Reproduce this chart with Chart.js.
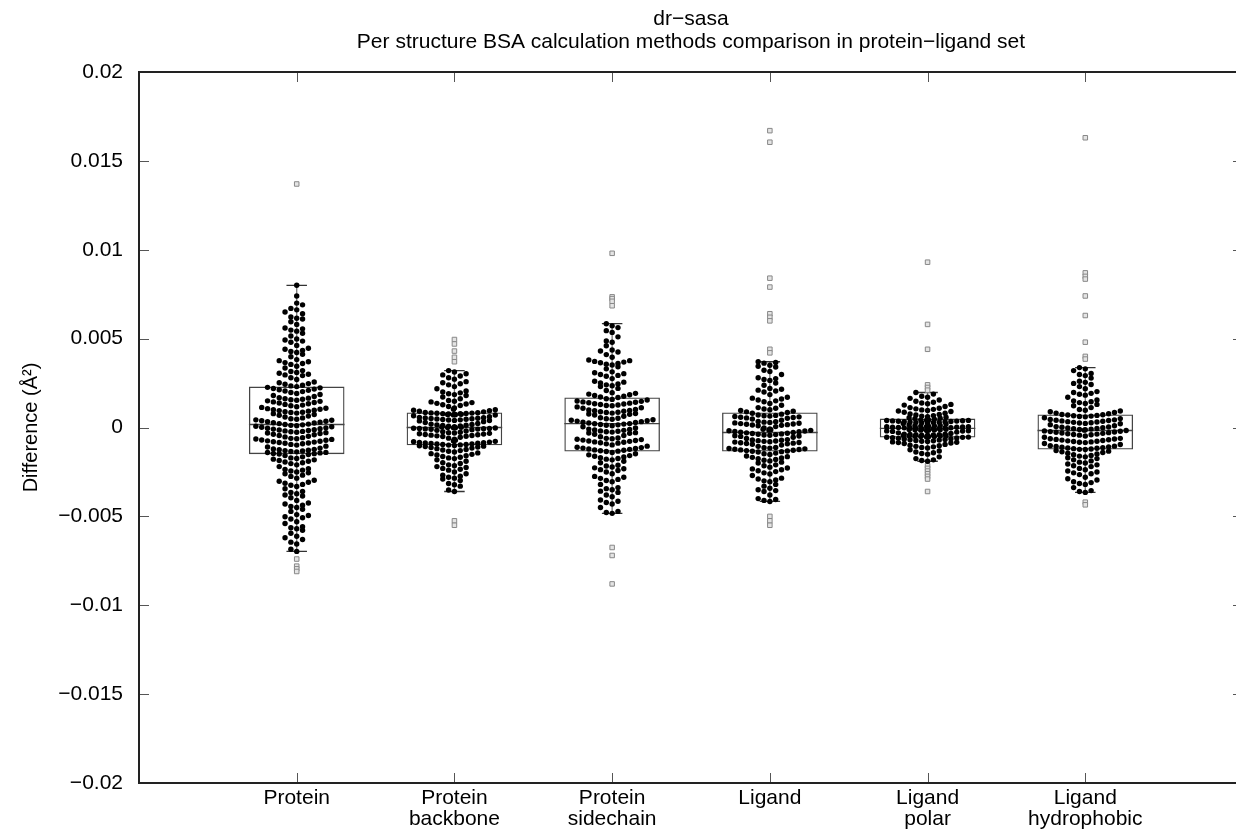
<!DOCTYPE html>
<html>
<head>
<meta charset="utf-8">
<script src="https://cdn.jsdelivr.net/npm/chart.js@4.4.0/dist/chart.umd.min.js"></script>
<style>
  html, body { margin: 0; padding: 0; background: #fff; overflow: hidden; }
  #wrap { width: 1248px; height: 837px; }
</style>
</head>
<body>
<div id="wrap"><canvas id="chart"></canvas></div>
<script>
// categories on the x axis (multi-line labels)
const categories = [
  ['Protein'], ['Protein', 'backbone'], ['Protein', 'sidechain'],
  ['Ligand'], ['Ligand', 'polar'], ['Ligand', 'hydrophobic']
];

// per-structure differences, in units of 1e-3 Å²
const proteinVals = [
  -6.97,-6.85,-6.55,-6.45,-6.3,-6.2,-6.12,-5.95,-5.78,-5.7,-5.64,-5.58,-5.4,-5.3,-5.15,-5.08,-5.02,-4.95,-4.9,-4.72,
  -4.6,-4.5,-4.44,-4.37,-4.3,-4.25,-4.1,-3.95,-3.85,-3.8,-3.73,-3.66,-3.6,-3.45,-3.32,-3.25,-3.2,-3.14,-3.08,-3.02,
  -2.97,-2.85,-2.75,-2.68,-2.6,-2.55,-2.5,-2.45,-2.4,-2.36,-2.32,-2.2,-2.1,-2.03,-1.98,-1.94,-1.9,-1.86,-1.82,-1.78,
  -1.74,-1.71,-1.65,-1.58,-1.52,
  -1.49,-1.47,-1.46,-1.43,-1.41,-1.4,-1.37,-1.35,-1.32,-1.3,-1.28,-1.25,-1.23,-1.21,-1.16,-1.1,-1.05,-0.99,-0.95,-0.91,
  -0.89,-0.87,-0.84,-0.82,-0.8,-0.77,-0.75,-0.72,-0.7,-0.67,-0.65,-0.63,-0.61,-0.57,-0.53,-0.49,-0.45,-0.41,-0.38,-0.34,
  -0.31,-0.29,-0.27,-0.24,-0.22,-0.19,-0.17,-0.14,-0.12,-0.09,-0.07,-0.04,-0.02,0.01,0.04,0.07,0.1,0.12,0.15,0.17,
  0.19,0.22,0.25,0.27,0.3,0.33,0.35,0.38,0.41,0.43,0.46,0.49,0.54,0.59,0.64,0.69,0.73,0.78,0.81,0.84,
  0.86,0.89,0.92,0.95,0.97,1.0,1.03,1.06,1.08,1.13,1.17,1.22,1.26,1.3,1.34,1.38,1.41,1.44,1.47,1.5,
  1.53,1.56,1.59,1.62,1.65,1.68,1.74,1.8,1.86,1.91,1.97,2.02,2.05,2.09,2.12,2.16,2.19,2.23,2.26,2.3,
  2.34,2.38,2.43,2.47,2.52,2.56,2.7,2.8,2.92,2.96,3.0,3.05,3.1,3.15,3.2,3.35,3.45,3.55,3.6,3.65,
  3.7,3.76,3.82,3.98,4.12,4.22,4.28,4.34,4.4,4.46,4.62,4.8,4.86,4.92,4.98,5.15,5.3,5.42,5.48,5.55,
  5.6,5.8,5.95,6.1,6.15,6.22,6.4,6.5,6.62,6.7,6.9,7.0,7.4,8.0
];
const backboneVals = [
  -3.6,-3.52,-3.3,-3.22,-3.15,-2.98,-2.9,-2.85,-2.8,-2.74,-2.68,-2.6,-2.5,-2.4,-2.35,-2.3,-2.25,-2.2,-2.15,-2.1,
  -2.02,-1.98,-1.9,-1.82,-1.75,-1.71,-1.67,-1.63,-1.59,-1.55,-1.51,-1.47,-1.43,-1.38,-1.34,-1.3,-1.27,-1.24,-1.19,-1.16,
  -1.13,-1.1,-1.07,-1.05,-1.03,-1.01,
  -0.99,-0.98,-0.96,-0.95,-0.93,-0.92,-0.9,-0.89,-0.87,-0.86,-0.84,-0.82,-0.8,-0.78,-0.76,-0.72,-0.66,-0.6,-0.55,-0.51,
  -0.49,-0.47,-0.45,-0.43,-0.41,-0.39,-0.37,-0.35,-0.33,-0.31,-0.29,-0.27,-0.24,-0.2,-0.16,-0.12,-0.1,-0.09,-0.08,-0.07,
  -0.06,-0.05,-0.04,-0.03,-0.02,-0.01,0.0,
  0.01,0.03,0.05,0.07,0.09,0.11,0.13,0.15,0.17,0.19,0.23,0.28,0.33,0.37,0.39,0.4,0.42,0.43,0.45,0.46,
  0.48,0.49,0.51,0.52,0.54,0.55,0.57,0.61,0.66,0.7,0.71,0.72,0.73,0.74,0.75,0.76,0.77,0.78,0.79,0.8,
  0.81,0.82,0.83,0.84,
  0.88,0.91,0.94,0.97,1.0,1.03,1.1,1.18,1.24,1.28,1.32,1.36,1.4,1.44,1.48,1.52,1.62,1.72,1.8,1.85,
  1.9,1.95,2.0,2.05,2.18,2.3,2.4,2.46,2.52,2.58,2.72,2.8,2.9,2.96,3.02,3.12,3.2
];
const sidechainVals = [
  -4.83,-4.78,-4.72,-4.5,-4.3,-4.22,-4.15,-4.08,-3.9,-3.8,-3.65,-3.58,-3.5,-3.44,-3.38,-3.2,-3.05,-2.98,-2.92,-2.86,
  -2.8,-2.75,-2.6,-2.5,-2.42,-2.37,-2.32,-2.27,-2.22,-2.17,-2.12,-1.98,-1.9,-1.82,-1.78,-1.74,-1.7,-1.66,-1.62,-1.58,
  -1.54,-1.48,-1.4,-1.35,
  -1.33,-1.31,-1.28,-1.26,-1.23,-1.21,-1.18,-1.16,-1.13,-1.11,-1.05,-0.98,-0.92,-0.88,-0.86,-0.83,-0.81,-0.78,-0.76,-0.73,
  -0.71,-0.68,-0.66,-0.63,-0.61,-0.59,-0.52,-0.45,-0.38,-0.33,-0.31,-0.29,-0.26,-0.24,-0.21,-0.19,-0.16,-0.14,-0.11,-0.09,
  -0.03,0.04,0.1,0.13,0.15,0.17,0.19,0.21,0.22,
  0.25,0.28,0.3,0.33,0.36,0.38,0.41,0.44,0.46,0.49,0.52,0.55,0.63,0.7,0.74,0.76,0.79,0.81,0.84,0.86,
  0.89,0.91,0.94,0.96,0.99,1.01,1.08,1.11,1.16,1.22,1.24,1.27,1.29,1.32,1.34,1.37,1.39,1.42,1.44,1.47,
  1.49,1.55,1.58,1.62,1.69,
  1.72,1.76,1.8,1.84,1.88,1.92,1.96,2.08,2.2,2.3,2.35,2.4,2.45,2.5,2.55,2.6,2.75,2.88,2.93,2.98,
  3.03,3.08,3.13,3.3,3.42,3.52,3.56,3.6,3.64,3.68,3.72,3.76,3.8,3.95,4.1,4.25,4.3,4.36,4.6,4.8,
  4.87,5.1,5.35,5.45,5.62,5.72,5.84
];
const ligandVals = [
  -4.16,-4.1,-4.05,-4.0,-3.8,-3.6,-3.55,-3.5,-3.42,-3.3,-3.2,-3.05,-3.0,-2.95,-2.9,-2.85,-2.7,-2.62,-2.55,-2.48,
  -2.43,-2.38,-2.33,-2.28,-2.23,-2.15,-2.1,-2.0,-1.95,-1.88,-1.84,-1.8,-1.76,-1.72,-1.68,-1.64,-1.6,-1.52,-1.48,-1.44,
  -1.38,-1.36,
  -1.34,-1.32,-1.3,-1.28,-1.26,-1.24,-1.22,-1.2,-1.18,-1.16,-1.14,-1.12,-1.06,-0.99,-0.94,-0.92,-0.9,-0.88,-0.86,-0.84,
  -0.82,-0.8,-0.78,-0.76,-0.74,-0.72,-0.7,-0.68,-0.62,-0.55,-0.5,-0.48,-0.46,-0.44,-0.42,-0.4,-0.38,-0.36,-0.34,-0.32,
  -0.3,-0.28,
  -0.26,-0.24,-0.22,-0.2,-0.18,-0.16,-0.14,-0.12,-0.1,-0.08,-0.02,0.05,0.1,0.12,0.14,0.16,0.18,0.2,0.22,0.24,
  0.26,0.28,0.3,0.32,0.34,0.41,0.48,0.52,0.54,0.56,0.58,0.6,0.62,0.64,0.66,0.68,0.7,0.75,0.8,0.84,
  0.88,0.92,0.96,1.0,1.04,1.08,1.12,1.25,1.35,1.45,1.5,1.55,1.6,1.65,1.7,1.85,2.0,2.05,2.1,2.15,
  2.2,2.38,2.5,2.65,2.7,2.75,2.8,2.98,3.15,3.22,3.4,3.45,3.5,3.62,3.66,3.7
];
const polarVals = [
  -1.9,-1.86,-1.82,-1.75,-1.65,-1.5,-1.46,-1.42,-1.38,-1.32,-1.25,-1.15,-1.12,-1.09,-1.06,-1.03,-1.0,-0.95,-0.9,-0.87,
  -0.85,-0.83,-0.81,-0.79,-0.77,-0.75,-0.73,-0.71,-0.69,-0.67,-0.65,-0.63,-0.61,-0.59,-0.57,
  -0.555,-0.55,-0.54,-0.53,-0.52,-0.51,-0.5,-0.49,-0.48,-0.47,-0.46,-0.45,-0.44,-0.43,-0.42,-0.41,-0.4,-0.39,-0.38,-0.37,
  -0.34,-0.3,-0.26,-0.22,-0.2,-0.19,-0.18,-0.17,-0.16,-0.15,-0.14,-0.13,-0.12,-0.11,-0.1,-0.09,-0.08,-0.07,-0.06,-0.05,
  -0.04,-0.03,-0.02,-0.01,0.0,0.01,0.02,0.03,0.04,0.05,0.06,0.07,0.08,0.09,0.1,0.11,0.15,0.19,0.23,0.26,
  0.27,0.28,0.29,0.3,0.31,0.32,0.33,0.34,0.35,0.36,0.37,0.38,0.39,0.4,0.41,0.42,0.43,0.46,0.5,
  0.52,0.55,0.58,0.61,0.64,0.67,0.7,0.73,0.76,0.8,0.86,0.9,0.93,0.96,0.99,1.02,1.05,1.08,1.12,1.18,
  1.26,1.3,1.34,1.38,1.42,1.48,1.55,1.64,1.7,1.76,1.88,1.97
];
const hydrophobicVals = [
  -3.65,-3.6,-3.55,-3.38,-3.2,-3.15,-3.1,-3.05,-2.95,-2.88,-2.8,-2.65,-2.6,-2.55,-2.5,-2.45,-2.38,-2.3,-2.2,-2.15,
  -2.1,-2.05,-2.0,-1.95,-1.88,-1.82,-1.75,-1.7,-1.65,-1.61,-1.57,-1.53,-1.49,-1.45,-1.41,-1.37,-1.33,-1.3,-1.24,
  -1.23,-1.21,-1.19,-1.17,-1.15,-1.13,-1.11,-1.09,-1.07,-1.05,-1.03,-0.96,-0.9,-0.85,-0.83,-0.81,-0.79,-0.77,-0.75,-0.73,
  -0.71,-0.69,-0.67,-0.65,-0.63,-0.61,-0.55,-0.48,-0.43,-0.41,-0.39,-0.37,-0.35,-0.33,-0.31,-0.29,-0.27,-0.25,-0.23,-0.21,
  -0.19,-0.17,
  -0.15,-0.13,-0.11,-0.09,-0.07,-0.05,-0.03,-0.01,0.01,0.03,0.05,0.1,0.16,0.21,0.23,0.25,0.27,0.29,0.31,0.33,
  0.35,0.37,0.39,0.41,0.43,0.45,0.5,0.55,0.6,0.62,0.64,0.66,0.68,0.7,0.72,0.73,
  0.77,0.81,0.85,0.89,0.93,0.97,1.01,1.12,1.22,1.3,1.35,1.4,1.45,1.5,1.55,1.7,1.82,1.87,1.92,1.97,
  2.02,2.18,2.3,2.42,2.48,2.54,2.6,2.78,2.92,2.98,3.04,3.2,3.3,3.37
];
const groupVals = [proteinVals, backboneVals, sidechainVals, ligandVals, polarVals, hydrophobicVals];

// box statistics (1e-3 Å²)
const q1 =          [-1.5, -1.0, -1.35, -1.35, -0.56, -1.24];
const median =      [0.17, 0.0, 0.22, -0.28, -0.05, -0.17];
const q3 =          [2.3, 0.84, 1.69, 0.84, 0.5, 0.73];
const whiskerLow =  [-6.97, -3.6, -4.83, -4.16, -1.9, -3.65];
const whiskerHigh = [8.0, 3.2, 5.84, 3.7, 1.97, 3.37];

// outliers (1e-3 Å²)
const outliers = [
  [13.7, -7.4, -7.8, -7.95, -8.1],
  [4.95, 4.7, 4.3, 3.95, 3.7, -5.25, -5.5],
  [9.8, 7.35, 7.25, 7.1, 6.85, -6.75, -7.2, -8.8],
  [16.7, 16.05, 8.4, 7.9, 6.4, 6.2, 6.0, 4.4, 4.2, -5.0, -5.25, -5.5],
  [9.3, 5.8, 4.4, 2.4, 2.25, 2.1, -2.15, -2.3, -2.45, -2.6, -2.75, -2.9, -3.6],
  [16.3, 8.7, 8.5, 8.35, 7.4, 6.3, 4.8, 4.0, 3.85, -4.2, -4.35]
];

const K = 1e-3;

// gnuplot-like swarm jitter: points whose values overlap are pushed sideways
function swarm(vals, overlap, spread, limit) {
  const s = vals.slice().sort((a, b) => a - b);
  const dx = s.map(() => 0);
  let i = 0;
  while (i < s.length - 1) {
    let j = 1;
    for (; i + j < s.length; j++) {
      if (s[i + j] - s[i] >= overlap) break;
      let off = Math.floor((j + 1) / 2) * spread;
      while (off > limit) off -= limit;
      dx[i + j] = (j & 1) ? -off : off;
    }
    i += j;
  }
  return s.map((v, k) => ({ dx: dx[k], v }));
}

const pointData = [];
groupVals.forEach((vals, g) => {
  swarm(vals, 0.35, 0.037, 0.29).forEach(p => pointData.push({ x: g + 1 + p.dx, y: p.v * K }));
});

const outlierData = [];
outliers.forEach((vals, g) => vals.forEach(v => outlierData.push({ x: g + 1, y: v * K })));

const boxData = q1.map((lo, g) => ({ x: g + 1, y: [lo * K, q3[g] * K] }));

const halfBox = 0.303, halfCap = 0.065;
const medianData = [], whiskerData = [], capData = [];
median.forEach((m, g) => {
  const c = g + 1;
  medianData.push({ x: c - halfBox, y: m * K }, { x: c + halfBox, y: m * K }, { x: c, y: null });
  whiskerData.push({ x: c, y: q3[g] * K }, { x: c, y: whiskerHigh[g] * K }, { x: c, y: null });
  whiskerData.push({ x: c, y: q1[g] * K }, { x: c, y: whiskerLow[g] * K }, { x: c, y: null });
  capData.push({ x: c - halfCap, y: whiskerHigh[g] * K }, { x: c + halfCap, y: whiskerHigh[g] * K }, { x: c, y: null });
  capData.push({ x: c - halfCap, y: whiskerLow[g] * K }, { x: c + halfCap, y: whiskerLow[g] * K }, { x: c, y: null });
});

// frame and inward ticks, like the gnuplot border
const frame = {
  id: 'frame',
  afterDraw(chart) {
    const { ctx, chartArea: a, scales: { x, y } } = chart;
    ctx.save();
    ctx.strokeStyle = '#555';
    ctx.lineWidth = 1;
    const t = 10;
    ctx.beginPath();
    y.ticks.forEach(tk => {
      const py = Math.round(y.getPixelForValue(tk.value)) + 0.5;
      ctx.moveTo(a.left, py); ctx.lineTo(a.left + t, py);
      ctx.moveTo(a.right, py); ctx.lineTo(a.right - t, py);
    });
    x.ticks.forEach(tk => {
      const px = Math.round(x.getPixelForValue(tk.value)) + 0.5;
      ctx.moveTo(px, a.bottom); ctx.lineTo(px, a.bottom - t);
      ctx.moveTo(px, a.top); ctx.lineTo(px, a.top + t);
    });
    ctx.stroke();
    ctx.strokeStyle = '#222';
    ctx.lineWidth = 2;
    ctx.strokeRect(a.left, a.top, a.right - a.left, a.bottom - a.top);
    ctx.restore();
  }
};

const font = 'Liberation Sans, Arial, Helvetica, sans-serif';

new Chart(document.getElementById('chart'), {
  type: 'scatter',
  data: {
    datasets: [
      { type: 'scatter', data: pointData, order: 0,
        pointRadius: 2.7, pointHoverRadius: 2.7, backgroundColor: '#000', borderWidth: 0 },
      { type: 'scatter', data: outlierData, order: 1, pointStyle: 'rect',
        pointRadius: 3.2, backgroundColor: '#e4e4e4', borderColor: '#888', borderWidth: 1 },
      { type: 'scatter', data: medianData, order: 2, showLine: true, spanGaps: false,
        pointRadius: 0, borderColor: '#444', borderWidth: 1.3 },
      { type: 'scatter', data: capData, order: 3, showLine: true, spanGaps: false,
        pointRadius: 0, borderColor: '#333', borderWidth: 1.3 },
      { type: 'scatter', data: whiskerData, order: 4, showLine: true, spanGaps: false,
        pointRadius: 0, borderColor: '#777', borderWidth: 1.3 },
      { type: 'bar', data: boxData, order: 5, backgroundColor: 'rgba(0,0,0,0)',
        borderColor: '#444', borderWidth: 1.3, borderSkipped: false,
        categoryPercentage: 1, barPercentage: 0.606 }
    ]
  },
  options: {
    responsive: true,
    maintainAspectRatio: false,
    animation: false,
    layout: { padding: { left: 0, right: 1, top: 0, bottom: 0 } },
    plugins: {
      legend: { display: false },
      tooltip: { enabled: false },
      title: {
        display: true,
        fullSize: false,
        text: ['dr\u2212sasa', 'Per structure BSA calculation methods comparison in protein\u2212ligand set'],
        color: '#000',
        font: { family: font, size: 21, weight: 'normal', lineHeight: 1.1 },
        padding: { top: 8, bottom: 17.8 }
      }
    },
    scales: {
      x: {
        type: 'linear', min: 0, max: 7, offset: false,
        grid: { display: false, drawTicks: false }, border: { display: false },
        afterBuildTicks: s => { s.ticks = s.ticks.filter(t => t.value >= 1 && t.value <= 6); },
        afterFit: s => { s.height = 54; },
        ticks: {
          stepSize: 1, autoSkip: false, maxRotation: 0, padding: 5, color: '#000',
          font: { family: font, size: 21, lineHeight: 1.0 },
          callback: v => categories[v - 1]
        }
      },
      y: {
        min: -0.02, max: 0.02,
        grid: { display: false, drawTicks: false }, border: { display: false },
        afterFit: s => { s.width = 139; },
        ticks: {
          stepSize: 0.005, padding: 16, color: '#000',
          font: { family: font, size: 21 },
          callback: v => String(+v.toFixed(3)).replace('-', '\u2212')
        },
        title: {
          display: true, text: 'Difference (Å²)', color: '#000',
          font: { family: font, size: 20, lineHeight: 1.2 },
          padding: { top: 19, bottom: 0 }
        }
      }
    }
  },
  plugins: [frame]
});
</script>
</body>
</html>
